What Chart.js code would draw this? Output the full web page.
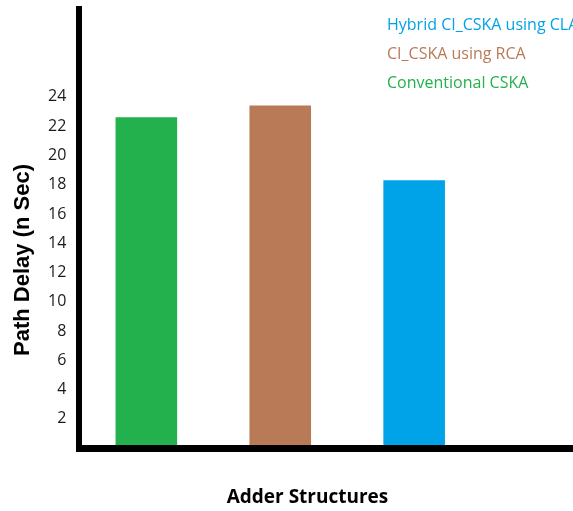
<!DOCTYPE html>
<html>
<head>
<meta charset="utf-8">
<script src="https://cdn.jsdelivr.net/npm/chart.js@4.4.0/dist/chart.umd.min.js"></script>
<style>
  html, body { margin: 0; padding: 0; background: #fff; overflow: hidden; }
  #wrap { width: 573px; height: 511px; overflow: hidden; }
</style>
</head>
<body>
<div id="wrap"><canvas id="chart-delay" width="615" height="511"></canvas></div>
<script>
// Path delay of the adder structures (picture is cropped on the right,
// so the category axis keeps one empty slot past the last bar)
const categories = ['Conventional CSKA', 'CI_CSKA using RCA', 'Hybrid CI_CSKA using CLA', ''];
const pathDelay = [22.6, 23.4, 18.3, null];
const barColors = ['#22B14C', '#B97A57', '#00A2E8'];
const yTicks = [2, 4, 6, 8, 10, 12, 14, 16, 18, 20, 22, 24];
const legendOrder = [2, 1, 0];

// plain coloured text legend drawn over the plot, like the original
const textLegend = {
    id: 'textLegend',
    afterDraw(chart, args, opts) {
        const ctx = chart.ctx;
        ctx.save();
        ctx.font = opts.font;
        ctx.textBaseline = 'middle';
        opts.order.forEach((idx, row) => {
            ctx.fillStyle = barColors[idx];
            ctx.fillText(categories[idx], opts.x, opts.y + row * opts.step);
        });
        ctx.restore();
    }
};

document.addEventListener('DOMContentLoaded', () => {
    const ctx = document.getElementById('chart-delay');
    new Chart(ctx, {
        type: 'bar',
        data: {
            labels: categories,
            datasets: [{
                data: pathDelay,
                backgroundColor: barColors,
                borderWidth: 0,
                categoryPercentage: 1,
                barPercentage: 0.46
            }]
        },
        options: {
            responsive: false,
            animation: false,
            layout: {
                padding: { top: 9 }
            },
            plugins: {
                legend: { display: false },
                tooltip: { enabled: false },
                title: {
                    display: true,
                    position: 'left',
                    text: 'Path Delay (n Sec)',
                    color: '#000',
                    font: {
                        family: "'Liberation Sans', Arial, sans-serif",
                        size: 22,
                        weight: 'bold'
                    },
                    padding: { top: 10, bottom: 1 }
                },
                subtitle: {
                    display: true,
                    position: 'bottom',
                    text: 'Adder Structures',
                    color: '#000',
                    font: {
                        family: "'Open Sans', sans-serif",
                        size: 19,
                        weight: 'bold'
                    },
                    padding: { top: 30, bottom: 2 }
                },
                textLegend: {
                    x: 387,
                    y: 25,
                    step: 29,
                    order: legendOrder,
                    font: "16px 'Open Sans', sans-serif"
                }
            },
            scales: {
                x: {
                    grid: { display: false },
                    ticks: { display: false },
                    border: { color: '#000', width: 7, z: 1 }
                },
                y: {
                    min: 0,
                    max: 30,
                    afterBuildTicks: (scale) => {
                        scale.ticks = yTicks.map(v => ({ value: v }));
                    },
                    afterFit: (scale) => {
                        scale.width = 42;
                        scale.paddingTop = 0;
                        scale.paddingBottom = 0;
                    },
                    grid: { display: false, drawTicks: false },
                    ticks: {
                        padding: 13,
                        color: '#1a1a1a',
                        font: {
                            family: "'Open Sans', sans-serif",
                            size: 16
                        }
                    },
                    border: { color: '#000', width: 6, z: 1 }
                }
            }
        },
        plugins: [textLegend]
    });
});
</script>
</body>
</html>
